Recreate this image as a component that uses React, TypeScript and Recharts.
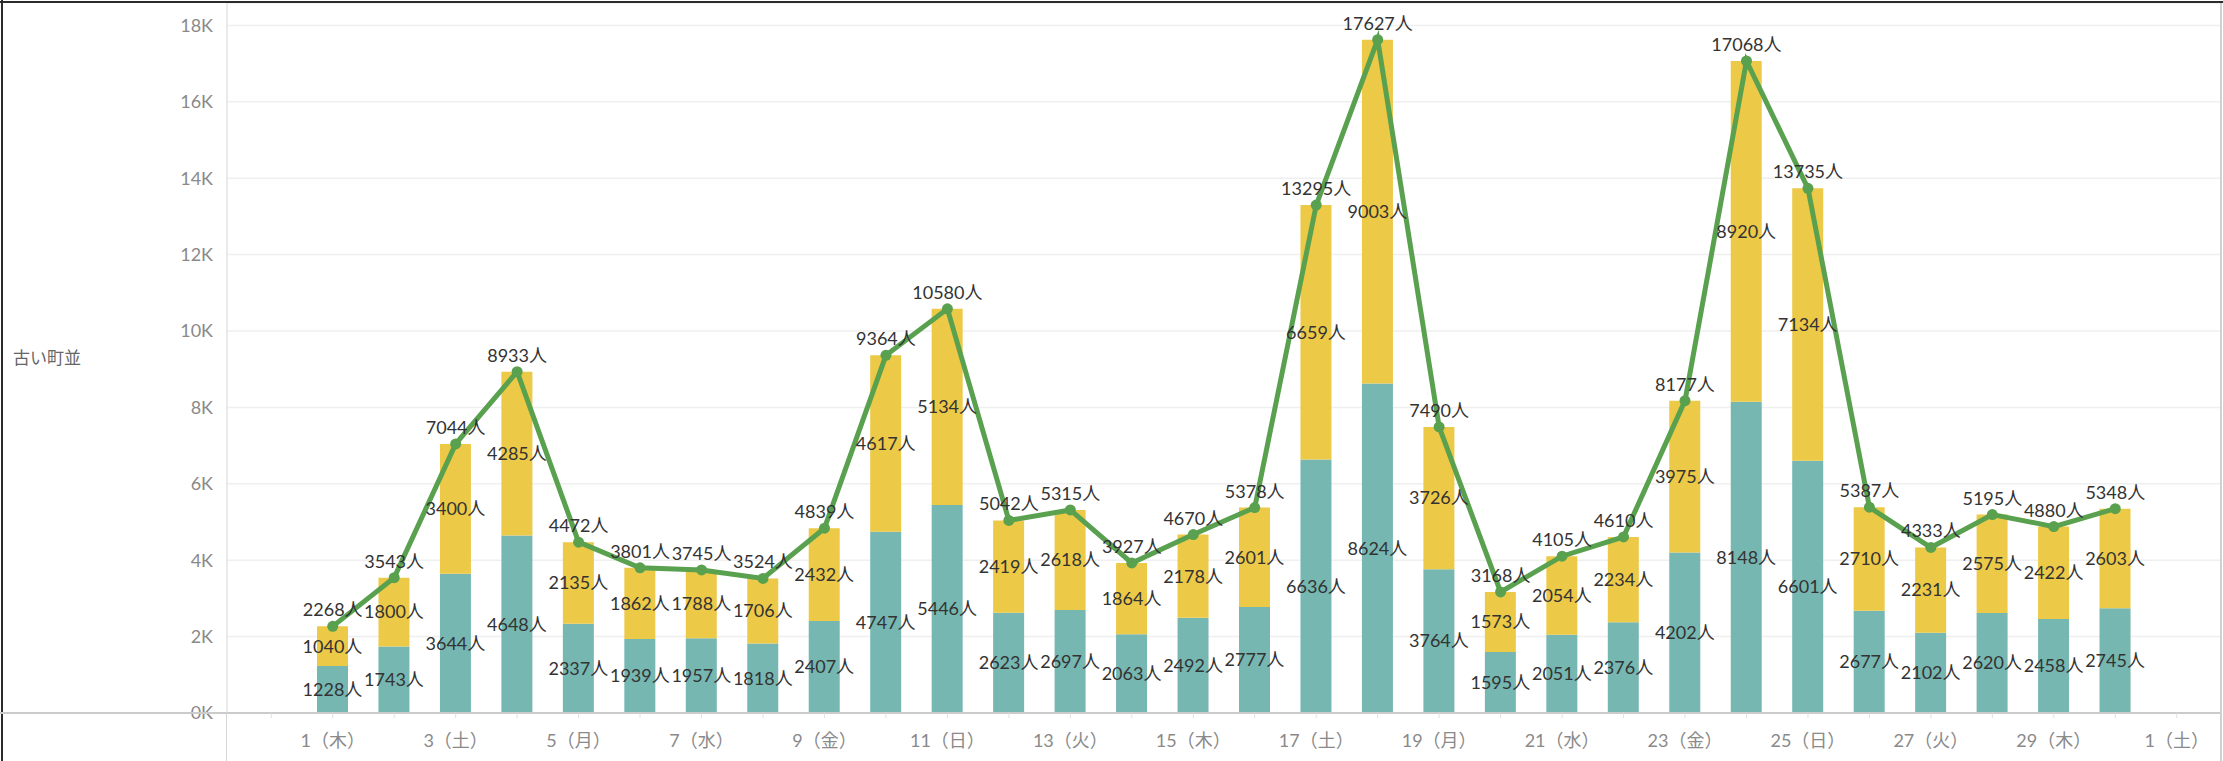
import {
  ComposedChart,
  Bar,
  Line,
  XAxis,
  YAxis,
  CartesianGrid,
  LabelList
} from "recharts";

// 日付（11月）
const days = [
  1, 2, 3, 4, 5, 6, 7, 8, 9, 10, 11, 12, 13, 14, 15,
  16, 17, 18, 19, 20, 21, 22, 23, 24, 25, 26, 27, 28, 29, 30
];

// 下段（青緑）
const lowerValues = [
  1228, 1743, 3644, 4648, 2337, 1939, 1957, 1818, 2407, 4747,
  5446, 2623, 2697, 2063, 2492, 2777, 6636, 8624, 3764, 1595,
  2051, 2376, 4202, 8148, 6601, 2677, 2102, 2620, 2458, 2745
];

// 上段（黄）
const upperValues = [
  1040, 1800, 3400, 4285, 2135, 1862, 1788, 1706, 2432, 4617,
  5134, 2419, 2618, 1864, 2178, 2601, 6659, 9003, 3726, 1573,
  2054, 2234, 3975, 8920, 7134, 2710, 2231, 2575, 2422, 2603
];

// 軸ラベル（奇数日のみ表示）
const labelDays = [1, 3, 5, 7, 9, 11, 13, 15, 17, 19, 21, 23, 25, 27, 29, 31];
const dayLabels = [
  "1（木）", "3（土）", "5（月）", "7（水）", "9（金）", "11（日）", "13（火）", "15（木）",
  "17（土）", "19（月）", "21（水）", "23（金）", "25（日）", "27（火）", "29（木）", "1（土）"
];
const tickDays = [
  0, 1, 2, 3, 4, 5, 6, 7, 8, 9, 10, 11, 12, 13, 14, 15,
  16, 17, 18, 19, 20, 21, 22, 23, 24, 25, 26, 27, 28, 29, 30, 31
];
const yTicks = [0, 2000, 4000, 6000, 8000, 10000, 12000, 14000, 16000, 18000];

const data = days.map((d, i) => ({
  day: d,
  lower: lowerValues[i],
  upper: upperValues[i],
  total: lowerValues[i] + upperValues[i]
}));

const fmtDay = (v: number) => {
  const i = labelDays.indexOf(v);
  return i >= 0 ? dayLabels[i] : "";
};
const fmtPeople = (v: any) => `${v}人`;

export default function App() {
  return (
    <div
      style={{
        position: "absolute",
        left: 0,
        top: 0,
        width: 2223,
        height: 761,
        background: "#fff",
        fontFamily: "Lato, 'Noto Sans CJK JP', sans-serif"
      }}
    >
      <ComposedChart
        width={2223}
        height={761}
        data={data}
        margin={{ top: 3, right: 2, bottom: 0, left: 0 }}
      >
        <CartesianGrid vertical={false} stroke="#efefef" strokeWidth={1.5} />
        <XAxis
          dataKey="day"
          type="number"
          domain={[-0.72, 31.72]}
          ticks={tickDays}
          interval={0}
          tickFormatter={fmtDay}
          height={48}
          tickSize={5}
          tickMargin={16}
          tick={{ fill: "#8a8a8a", fontSize: 18 }}
          axisLine={{ stroke: "#cbcbcb", strokeWidth: 2 }}
          tickLine={{ stroke: "#e0e0e0" }}
        />
        <YAxis
          width={227}
          domain={[0, 18586]}
          ticks={yTicks}
          tickFormatter={(v: number) => `${v / 1000}K`}
          tickSize={0}
          tickMargin={14}
          tick={{ fill: "#8a8a8a", fontSize: 18 }}
          axisLine={{ stroke: "#d6d6d6" }}
          tickLine={false}
          label={{
            value: "古い町並",
            position: "insideLeft",
            offset: 13,
            fill: "#666",
            fontSize: 17
          }}
        />
        <Bar dataKey="lower" stackId="a" fill="#76b7b2" barSize={31} isAnimationActive={false}>
          <LabelList
            dataKey="lower"
            position="center"
            formatter={fmtPeople}
            fill="#333"
            fontSize={18}
          />
        </Bar>
        <Bar dataKey="upper" stackId="a" fill="#edc948" barSize={31} isAnimationActive={false}>
          <LabelList
            dataKey="upper"
            position="center"
            formatter={fmtPeople}
            fill="#333"
            fontSize={18}
          />
        </Bar>
        <Line
          type="linear"
          dataKey="total"
          stroke="#59a14f"
          strokeWidth={5}
          dot={{ r: 5.5, fill: "#59a14f", stroke: "none" }}
          activeDot={false}
          isAnimationActive={false}
        >
          <LabelList
            dataKey="total"
            position="top"
            offset={10}
            formatter={fmtPeople}
            fill="#333"
            fontSize={18}
          />
        </Line>
      </ComposedChart>

      {/* 枠線 */}
      <div style={{ position: "absolute", left: 0, top: 1, width: 2223, height: 2, background: "#2b2b2b" }} />
      <div style={{ position: "absolute", left: 1, top: 0, width: 2, height: 761, background: "#2b2b2b" }} />
      <div style={{ position: "absolute", left: 2220, top: 3, width: 2, height: 758, background: "#d0d0d0" }} />
      <div style={{ position: "absolute", left: 0, top: 712, width: 227, height: 2, background: "#cbcbcb" }} />
      <div style={{ position: "absolute", left: 226, top: 713, width: 1, height: 48, background: "#d6d6d6" }} />
    </div>
  );
}
